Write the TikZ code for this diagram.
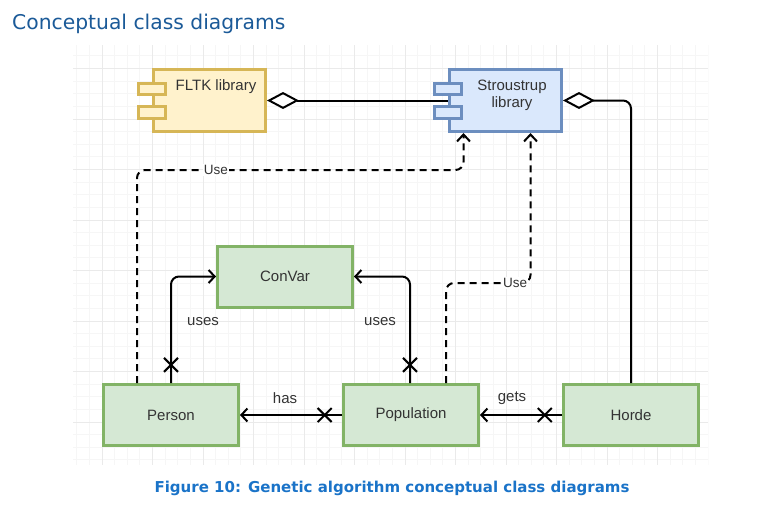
\documentclass[tikz,border=0pt]{standalone}
\usepackage{fontspec}
\setmainfont{Liberation Sans}
\newfontfamily\headfont{DejaVu Sans}
\usetikzlibrary{arrows.meta,calc,shapes.misc}
\definecolor{ink}{HTML}{333333}
\definecolor{titleblue}{HTML}{1B5A98}
\definecolor{capblue}{HTML}{1A73C8}
\definecolor{boxgreen}{HTML}{82B366}
\definecolor{fillgreen}{HTML}{D5E8D4}
\definecolor{boxyellow}{HTML}{D6B656}
\definecolor{fillyellow}{HTML}{FFF2CC}
\definecolor{boxblue}{HTML}{6C8EBF}
\definecolor{fillblue}{HTML}{DAE8FC}
\definecolor{gridmin}{HTML}{F6F6F6}
\definecolor{gridmaj}{HTML}{EAEAEA}
\def\libports#1#2{%
	\draw[#2] ($(#1.west)+(-14,-17.5)$) rectangle ++(27,11);
	\draw[#2] ($(#1.west)+(-14,5.5)$) rectangle ++(27,12);}

\begin{document}
\begin{tikzpicture}[x=1pt,y=-1pt,
		classbox/.style={draw=boxgreen, fill=fillgreen, line width=3pt, minimum width=135pt, minimum height=61pt, text=ink, font=\fontsize{15}{17}\selectfont},
		fltkbox/.style={draw=boxyellow, fill=fillyellow, line width=3pt},
		stroubox/.style={draw=boxblue, fill=fillblue, line width=3pt},
		libtext/.style={text=ink, font=\fontsize{15}{17}\selectfont, align=center, inner sep=0pt},
		assoc/.style={line width=2pt, rounded corners=8pt, -{Straight Barb[length=6pt,width=13pt]}},
		usedep/.style={line width=2pt, dash pattern=on 7pt off 5pt, rounded corners=8pt, -{Straight Barb[length=7pt,width=13pt]}},
		aggr/.style={line width=2pt, rounded corners=8pt, {Diamond[fill=white,length=32pt,width=17pt]}-},
		crossmark/.style={cross out, draw, line width=2pt, minimum size=12pt, inner sep=0pt},
		lbl/.style={text=ink, font=\fontsize{15}{17}\selectfont, inner sep=1pt},
		uselbl/.style={text=ink, fill=white, font=\fontsize{13.5}{15}\selectfont, inner sep=1pt}]
	\useasboundingbox (0,0) rectangle (762,514);
	%%%%% GRID %%%%%
	\begin{scope}
		\clip (73,45) rectangle (708,465);
		\foreach \gx in {76.75,89.375,...,709} \draw[gridmin, line width=1pt] (\gx,45) -- (\gx,465);
		\foreach \gy in {55.875,68.5,...,466} \draw[gridmin, line width=1pt] (73,\gy) -- (708,\gy);
		\foreach \gx in {102,152.5,...,709} \draw[gridmaj, line width=1pt] (\gx,45) -- (\gx,465);
		\foreach \gy in {68.5,119,...,466} \draw[gridmaj, line width=1pt] (73,\gy) -- (708,\gy);
	\end{scope}
	
	%%%%% START %%%%%
	\node[anchor=base west, text=titleblue, inner sep=0pt, font=\headfont\fontsize{20.3}{23}\selectfont] (title) at (12,29) {Conceptual class diagrams};
	
	\node[fltkbox, minimum width=112pt, minimum height=62pt] (fltk) at (209.5,100.5) {};
	\libports{fltk}{fltkbox}
	\node[libtext] (fltklbl) at (216,87) {FLTK library};
	
	\node[stroubox, minimum width=112pt, minimum height=62pt] (strou) at (505.5,100.5) {};
	\libports{strou}{stroubox}
	\node[libtext] (stroulbl) at (512,95.5) {Stroustrup\\library};
	
	\node[classbox] (convar) at (285,276.5) {ConVar};
	\node[classbox] (person) at (171,415) {Person};
	\node[classbox] (population) at (411,415) {Population};
	\node[classbox] (horde) at (631,415) {Horde};
	
	% aggregations
	\draw[aggr] (fltk.east) -- (strou.west);
	\draw[aggr] (strou.east) -| (horde.north);
	
	% dependencies
	\draw[usedep] ([xshift=-34pt]person.north) |- ([xshift=-42pt,yshift=-37pt]strou.south) -- ([xshift=-42pt]strou.south);
	\node[uselbl] (use1) at (216,170) {Use};
	\draw[usedep] ([xshift=35pt]population.north) |- ([xshift=25pt,yshift=-150pt]strou.south) -- ([xshift=25pt]strou.south);
	\node[uselbl] (use2) at (515,283) {Use};
	
	% associations
	\draw[assoc] (person.north) |- (convar.west) node[crossmark, pos=0.085] {};
	\node[lbl] (uses1) at (203,322) {uses};
	\draw[assoc] ([xshift=-1pt]population.north) |- (convar.east) node[crossmark, pos=0.085] {};
	\node[lbl] (uses2) at (380,322) {uses};
	\draw[assoc] (population.west) -- (person.east) node[crossmark, pos=0.17] {};
	\node[lbl] (has) at (285,398) {has};
	\draw[assoc] (horde.west) -- (population.east) node[crossmark, pos=0.21] {};
	\node[lbl] (gets) at (512,398) {gets};
	
	\node[anchor=base, text=capblue, inner sep=0pt, font=\headfont\bfseries\fontsize{15}{17}\selectfont] (caption) at (392,492) {Figure 10: Genetic algorithm conceptual class diagrams};
	%%%%% END %%%%%
\end{tikzpicture}
\end{document}
